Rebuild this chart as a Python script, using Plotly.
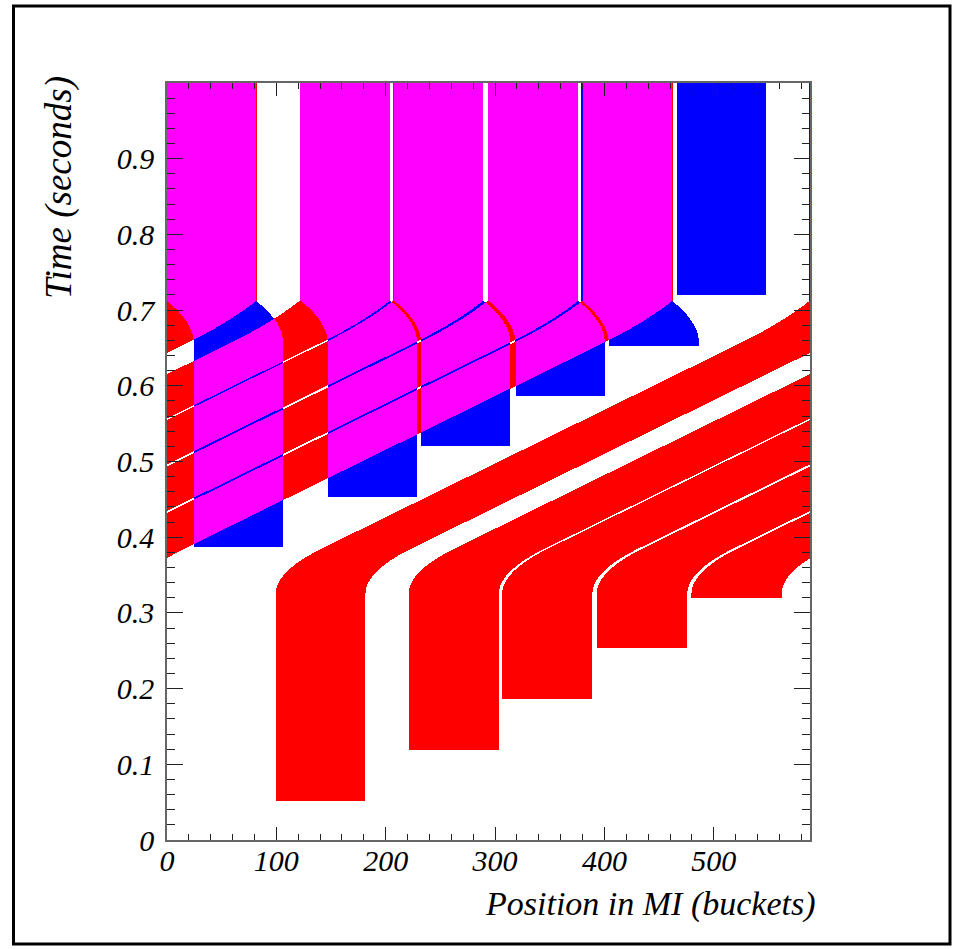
import numpy as np
import plotly.graph_objects as go

# ---------------- data ----------------
RING = 588  # Main Injector circumference in buckets (x-axis range)

# first (red) Booster batches: injection time [s], left edge [bucket], width [bucket]
red_inj_time = [0.052, 0.119, 0.186, 0.253, 0.320]
red_left = [99.5, 221.0, 306.5, 393.0, 479.6]
red_width = [82.0, 82.5, 82.5, 82.8, 82.4]

# second (blue) Booster batches
blue_inj_time = [0.387, 0.4525, 0.520, 0.586, 0.653, 0.7205]
blue_left = [24.4, 147.0, 232.4, 318.7, 404.0, 466.0]
blue_width = [81.7, 81.8, 81.6, 81.7, 82.5, 82.0]

# slipping / capture parameters
slip_start = 0.325        # s, red batches start to slip
slip_ramp = 0.0604        # s, time to reach full slip rate
slip_rate = 1410.0        # buckets / s
capture_start = 0.656     # s
capture_end = 0.7126      # s
red_total_slip = 488.4    # buckets slipped by red at capture end
blue_capture_shift = 25.0 # buckets blue moves back during capture

x_tick_vals = [0, 100, 200, 300, 400, 500]
x_tick_text = ["0", "100", "200", "300", "400", "500"]
y_tick_vals = [0, 0.1, 0.2, 0.3, 0.4, 0.5, 0.6, 0.7, 0.8, 0.9]
y_tick_text = ["0", "0.1", "0.2", "0.3", "0.4", "0.5", "0.6", "0.7", "0.8", "0.9"]

# ---------------- build the bucket / time map ----------------
NX, NY = 643, 757
xe = np.linspace(0, RING, NX + 1)
ye = np.linspace(0, 1, NY + 1)
xc = 0.5 * (xe[:-1] + xe[1:])
yc = 0.5 * (ye[:-1] + ye[1:])
X, T = np.meshgrid(xc, yc)

Tcap = capture_end - capture_start
S_c = slip_rate * (capture_start - slip_start - slip_ramp / 2)
D_r = S_c + slip_rate * Tcap - red_total_slip


def red_slip(t):
    s = np.zeros_like(t)
    m = (t >= slip_start) & (t < slip_start + slip_ramp)
    s[m] = slip_rate / (2 * slip_ramp) * (t[m] - slip_start) ** 2
    m = (t >= slip_start + slip_ramp) & (t < capture_start)
    s[m] = slip_rate * (t[m] - slip_start - slip_ramp / 2)
    m = (t >= capture_start) & (t < capture_end)
    u = t[m] - capture_start
    s[m] = S_c + slip_rate * u - D_r * (u / Tcap) ** 2
    m = t >= capture_end
    s[m] = red_total_slip
    return s


def blue_slip(t):
    s = np.zeros_like(t)
    m = (t >= capture_start) & (t < capture_end)
    u = t[m] - capture_start
    s[m] = -blue_capture_shift * (u / Tcap) ** 2
    s[t >= capture_end] = -blue_capture_shift
    return s


SR = red_slip(T)
SB = blue_slip(T)
red_mask = np.zeros(X.shape, bool)
for t0, x0, w in zip(red_inj_time, red_left, red_width):
    red_mask |= (T >= t0) & (np.mod(X - x0 - SR, RING) < w)
blue_mask = np.zeros(X.shape, bool)
for t0, x0, w in zip(blue_inj_time, blue_left, blue_width):
    shift = SB if t0 < capture_end else 0.0
    blue_mask |= (T >= t0) & (np.mod(X - x0 - shift, RING) < w)

z = (red_mask.astype(np.uint8) + 2 * blue_mask.astype(np.uint8)).astype(np.uint8)

cs = [[0, "#ffffff"], [0.1667, "#ffffff"], [0.1667, "#ff0000"], [0.5, "#ff0000"],
      [0.5, "#0000ff"], [0.8333, "#0000ff"], [0.8333, "#ff00ff"], [1, "#ff00ff"]]

fig = go.Figure(go.Heatmap(z=z, x=xc, y=yc, colorscale=cs, zmin=0, zmax=3,
                           showscale=False, hoverinfo="skip", zsmooth=False))

tickfont = dict(family="Liberation Serif", size=30, color="black", style="italic")
axis_common = dict(showgrid=False, zeroline=False, showline=True, linecolor="#666666",
                   linewidth=1.5, mirror="ticks", ticks="inside", tickcolor="#222222",
                   tickwidth=1.3, tickfont=tickfont)

fig.update_layout(
    width=961, height=949,
    margin=dict(l=167, r=151, t=83, b=109),
    paper_bgcolor="white", plot_bgcolor="white",
    xaxis=dict(range=[0, RING], tickvals=x_tick_vals, ticktext=x_tick_text, ticklen=13,
               minor=dict(ticks="inside", ticklen=6.5, dtick=20, tick0=0,
                          tickcolor="#222222", tickwidth=1.2),
               ticklabelstandoff=-7, **axis_common),
    yaxis=dict(range=[0, 1], tickvals=y_tick_vals, ticktext=y_tick_text, ticklen=16,
               minor=dict(ticks="inside", ticklen=8, dtick=0.02, tick0=0,
                          tickcolor="#222222", tickwidth=1.2),
               ticklabelstandoff=5, **axis_common),
    showlegend=False,
)

titlefont = dict(family="Liberation Serif", size=34, color="black", style="italic")
fig.add_annotation(text="Position in MI (buckets)", xref="paper", yref="paper",
                   x=1.012, y=-0.085, xanchor="right", yanchor="middle",
                   showarrow=False, font=titlefont)
fig.add_annotation(text="Time (seconds)", xref="paper", yref="paper",
                   x=-0.167, y=1.012, xanchor="center", yanchor="top", textangle=-90,
                   showarrow=False, font=dict(titlefont, size=37))

# outer frame of the figure
fig.add_shape(type="rect", xref="paper", yref="paper",
              x0=(13.5 - 167) / 643, x1=(950 - 167) / 643,
              y0=(840 - 944) / 757, y1=(840 - 6) / 757,
              line=dict(color="black", width=3), fillcolor="rgba(0,0,0,0)")

fig.write_html("out.html")
